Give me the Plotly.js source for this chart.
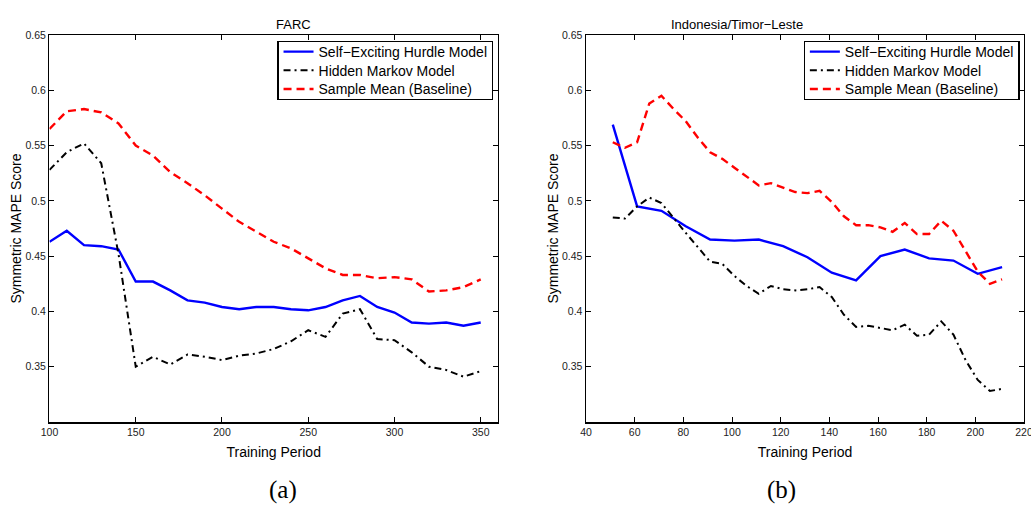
<!DOCTYPE html>
<html>
<head>
<meta charset="utf-8">
<script src="https://cdn.plot.ly/plotly-3.0.1.min.js"></script>
<style>html,body{margin:0;padding:0;background:#fff;}#chart{width:1031px;height:506px;}</style>
</head>
<body>
<div id="chart"></div>
<script>
// ---- Panel (a): FARC ----
const farcX = [100,110,120,130,140,150,160,170,180,190,200,210,220,230,240,250,260,270,280,290,300,310,320,330,340,350];
const farcHurdle = [0.463,0.473,0.460,0.459,0.456,0.427,0.427,0.419,0.410,0.408,0.404,0.402,0.404,0.404,0.402,0.401,0.404,0.410,0.414,0.404,0.399,0.390,0.389,0.390,0.387,0.390];
const farcHMM = [0.528,0.544,0.552,0.534,0.452,0.350,0.359,0.352,0.361,0.359,0.356,0.360,0.362,0.366,0.373,0.383,0.377,0.398,0.402,0.375,0.374,0.363,0.350,0.347,0.341,0.346];
const farcMean = [0.565,0.581,0.583,0.580,0.570,0.550,0.541,0.526,0.516,0.505,0.493,0.481,0.472,0.463,0.457,0.448,0.439,0.433,0.433,0.430,0.431,0.429,0.418,0.419,0.422,0.429];

// ---- Panel (b): Indonesia/Timor-Leste ----
const indoX10 = [51,61,71,81,91,101,111,121,131,141,151,161,171,181,191,201,211];
const indoHurdle = [0.569,0.495,0.491,0.477,0.465,0.464,0.465,0.459,0.449,0.435,0.428,0.450,0.456,0.448,0.446,0.434,0.440];
const indoX5 = [51,56,61,66,71,76,81,86,91,96,101,106,111,116,121,126,131,136,141,146,151,156,161,166,171,176,181,186,191,196,201,206,211];
const indoHMM = [0.485,0.484,0.495,0.503,0.498,0.484,0.471,0.458,0.445,0.443,0.432,0.423,0.416,0.423,0.420,0.419,0.420,0.422,0.413,0.397,0.386,0.387,0.385,0.383,0.388,0.378,0.379,0.391,0.379,0.356,0.338,0.328,0.330];
const indoMean = [0.553,0.548,0.553,0.588,0.595,0.583,0.572,0.557,0.544,0.538,0.530,0.522,0.514,0.516,0.512,0.508,0.507,0.509,0.499,0.486,0.478,0.478,0.476,0.472,0.480,0.470,0.470,0.482,0.473,0.454,0.436,0.425,0.429];

// ---- Labels ----
const seriesNames = ["Self\u2212Exciting Hurdle Model","Hidden Markov Model","Sample Mean (Baseline)"];
const panelTitles = ["FARC","Indonesia/Timor\u2212Leste"];
const panelLetters = ["(a)","(b)"];
const yTickVals = [0.35,0.40,0.45,0.50,0.55,0.60,0.65];
const yTickText = ["0.35","0.4","0.45","0.5","0.55","0.6","0.65"];
const xTickA = [100,150,200,250,300,350];
const xTickB = [40,60,80,100,120,140,160,180,200,220];

const FONT = "Liberation Sans, Arial, sans-serif";
const blue = {color:"#0000ff", width:2.4, dash:"solid"};
const black = {color:"#000000", width:2, dash:"7px,4px,2px,4px"};
const red = {color:"#ff0000", width:2.4, dash:"8px,5px"};

const traces = [
  {x:farcX, y:farcHurdle, name:seriesNames[0], line:blue, xaxis:"x", yaxis:"y", legend:"legend"},
  {x:farcX, y:farcHMM, name:seriesNames[1], line:black, xaxis:"x", yaxis:"y", legend:"legend"},
  {x:farcX, y:farcMean, name:seriesNames[2], line:red, xaxis:"x", yaxis:"y", legend:"legend"},
  {x:indoX10, y:indoHurdle, name:seriesNames[0], line:blue, xaxis:"x2", yaxis:"y2", legend:"legend2"},
  {x:indoX5, y:indoHMM, name:seriesNames[1], line:black, xaxis:"x2", yaxis:"y2", legend:"legend2"},
  {x:indoX5, y:indoMean, name:seriesNames[2], line:red, xaxis:"x2", yaxis:"y2", legend:"legend2"}
].map(t => Object.assign({type:"scatter", mode:"lines"}, t));

function xax(domain, range, ticks){
  return {domain:domain, range:range, tickvals:ticks, ticktext:ticks.map(String),
    showline:true, mirror:"ticks", linecolor:"#000", linewidth:1.5,
    ticks:"inside", ticklen:5, tickcolor:"#000", tickwidth:1,
    showgrid:false, zeroline:false, ticklabeloverflow:"allow",
    tickfont:{family:FONT, size:10.5, color:"#222"},
    title:{text:"Training Period", font:{family:FONT, size:14, color:"#000"}, standoff:10}};
}
function yax(anchor){
  return {anchor:anchor, domain:[0,1], range:[0.30,0.65], tickvals:yTickVals, ticktext:yTickText,
    showline:true, mirror:"ticks", linecolor:"#000", linewidth:1.5,
    ticks:"inside", ticklen:5, tickcolor:"#000", tickwidth:1,
    showgrid:false, zeroline:false,
    tickfont:{family:FONT, size:10.5, color:"#222"},
    title:{text:"Symmetric MAPE Score", font:{family:FONT, size:14, color:"#000"}, standoff:0}};
}
function leg(xRight){
  return {x:xRight, xanchor:"right", y:0.985, yanchor:"top", bgcolor:"#fff",
    bordercolor:"#000", borderwidth:1.2, font:{family:FONT, size:14, color:"#000"},
    itemwidth:30, tracegroupgap:0};
}

const layout = {
  width:1031, height:506,
  margin:{l:0, r:0, t:35, b:84},
  paper_bgcolor:"#fff", plot_bgcolor:"#fff",
  showlegend:true,
  xaxis: Object.assign(xax([0.048,0.483],[100,360],xTickA), {anchor:"y"}),
  yaxis: yax("x"),
  xaxis2: Object.assign(xax([0.5684,0.9932],[40,220],xTickB), {anchor:"y2"}),
  yaxis2: yax("x2"),
  legend: leg(0.4785),
  legend2: leg(0.989),
  annotations:[
    {text:panelTitles[0], xref:"paper", yref:"paper", x:0.2655, y:1, yshift:20, showarrow:false, font:{family:FONT,size:13,color:"#000"}},
    {text:panelTitles[1], xref:"paper", yref:"paper", x:0.7808, y:1, yshift:20, showarrow:false, font:{family:FONT,size:13,color:"#000"}},
    {text:panelLetters[0], xref:"paper", yref:"paper", x:0.2590, y:0, yshift:-84, showarrow:false, font:{family:"Liberation Serif, Times New Roman, serif",size:25,color:"#000"}},
    {text:panelLetters[1], xref:"paper", yref:"paper", x:0.7740, y:0, yshift:-84, showarrow:false, font:{family:"Liberation Serif, Times New Roman, serif",size:25,color:"#000"}}
  ]
};

Plotly.newPlot("chart", traces, layout, {displayModeBar:false, staticPlot:true}).then(gd => {
  // tighten legend row spacing to match the compact MATLAB-style legend
  gd.querySelectorAll("g.legend, g.legend2").forEach(lg => {
    const trs = lg.querySelectorAll("g.traces");
    if (!trs.length) return;
    const m = /translate\(\s*([-\d.]+)[\s,]*([-\d.]+)?\s*\)/.exec(trs[0].getAttribute("transform") || "");
    const x0 = m ? +m[1] : 0, y0 = m ? +(m[2] || 0) : 0;
    trs.forEach((t, i) => t.setAttribute("transform", "translate(" + x0 + "," + (y0 - 6 + i * 18.7) + ")"));
    const bg = lg.querySelector("rect.bg");
    if (bg) bg.setAttribute("height", 58);
  });
});
</script>
</body>
</html>
